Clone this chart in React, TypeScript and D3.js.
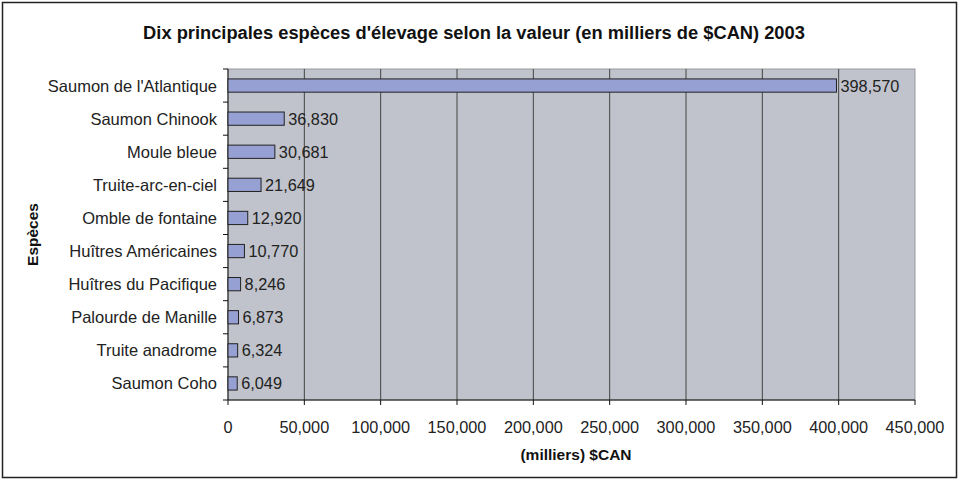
import React from "react";
import * as d3 from "d3";

const categories = [
  "Saumon de l'Atlantique",
  "Saumon Chinook",
  "Moule bleue",
  "Truite-arc-en-ciel",
  "Omble de fontaine",
  "Huîtres Américaines",
  "Huîtres du Pacifique",
  "Palourde de Manille",
  "Truite anadrome",
  "Saumon Coho",
];
const values = [398570, 36830, 30681, 21649, 12920, 10770, 8246, 6873, 6324, 6049];
const xTicks = [0, 50000, 100000, 150000, 200000, 250000, 300000, 350000, 400000, 450000];

const W = 960, H = 481;
const M = { left: 228, right: 915, top: 69, bottom: 400 };
const font = "'Liberation Sans', Arial, sans-serif";

export default function App() {
  const x = d3.scaleLinear().domain([0, 450000]).range([M.left, M.right]);
  const y = d3.scaleBand().domain(categories).range([M.top, M.bottom]).paddingInner(0.6).paddingOuter(0.3);
  const yb = d3.scaleBand().domain(categories).range([M.top, M.bottom]);
  const fmt = d3.format(",");
  return (
    <svg width={W} height={H} style={{ position: "absolute", left: 0, top: 0 }} fontFamily={font}>
      <rect x={0} y={0} width={W} height={H} fill="#fff" />
      <rect x={2.5} y={2.5} width={954} height={475} fill="#fff" stroke="#222" strokeWidth={1.5} />
      <text x={474} y={39} textAnchor="middle" fontSize={18.3} fontWeight="bold" fill="#111">
        Dix principales espèces d'élevage selon la valeur (en milliers de $CAN) 2003
      </text>
      <rect x={M.left} y={M.top} width={M.right - M.left} height={M.bottom - M.top} fill="#c0c3cb" stroke="#999" strokeWidth={1} />
      {xTicks.slice(1, -1).map((t) => (
        <line key={t} x1={x(t)} x2={x(t)} y1={M.top} y2={M.bottom} stroke="#444" strokeWidth={1} />
      ))}
      <line x1={M.left} x2={M.right} y1={M.bottom} y2={M.bottom} stroke="#111" />
      <line x1={M.left} x2={M.left} y1={M.top} y2={M.bottom} stroke="#111" />
      {xTicks.map((t) => (
        <g key={t}>
          <line x1={x(t)} x2={x(t)} y1={M.bottom} y2={M.bottom + 5} stroke="#111" />
          <text x={x(t)} y={433} textAnchor="middle" fontSize={16.3} fill="#222">{fmt(t)}</text>
        </g>
      ))}
      {categories.map((c) => (
        <line key={c} x1={M.left - 5} x2={M.left} y1={yb(c)!} y2={yb(c)!} stroke="#111" />
      ))}
      <line x1={M.left - 5} x2={M.left} y1={M.bottom} y2={M.bottom} stroke="#111" />
      {categories.map((c, i) => (
        <g key={c}>
          <rect x={x(0)} y={y(c)!} width={x(values[i]) - x(0)} height={y.bandwidth()} fill="#97a0d2" stroke="#222" strokeWidth={1} />
          <text x={x(values[i]) + 4} y={yb(c)! + yb.bandwidth() / 2 + 6} fontSize={16.3} fill="#222">{fmt(values[i])}</text>
          <text x={M.left - 11} y={yb(c)! + yb.bandwidth() / 2 + 6} textAnchor="end" fontSize={16.5} fill="#222">{c}</text>
        </g>
      ))}
      <text x={576} y={460} textAnchor="middle" fontSize={15.5} fontWeight="bold" fill="#111">(milliers) $CAN</text>
      <text transform={`translate(38,${(M.top + M.bottom) / 2}) rotate(-90)`} textAnchor="middle" fontSize={15.5} fontWeight="bold" fill="#111">Espèces</text>
    </svg>
  );
}
